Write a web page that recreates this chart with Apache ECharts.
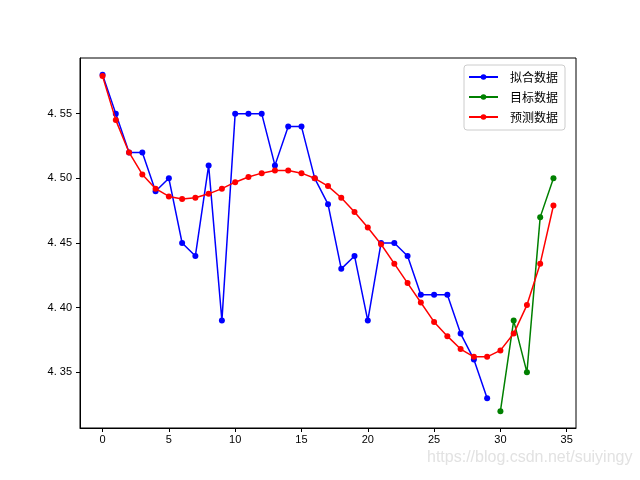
<!DOCTYPE html>
<html><head><meta charset="utf-8">
<script src="https://cdn.jsdelivr.net/npm/echarts@6/dist/echarts.min.js"></script>
<style>html,body{margin:0;padding:0;background:#fff}#c{width:640px;height:480px}</style>
</head><body><div id="c"></div>
<script>
var fitX = [0,1,2,3,4,5,6,7,8,9,10,11,12,13,14,15,16,17,18,19,20,21,22,23,24,25,26,27,28,29];
var fitY = [4.58,4.55,4.52,4.52,4.49,4.50,4.45,4.44,4.51,4.39,4.55,4.55,4.55,4.51,4.54,4.54,4.50,4.48,4.43,4.44,4.39,4.45,4.45,4.44,4.41,4.41,4.41,4.38,4.36,4.33];
var targetX = [30,31,32,33,34];
var targetY = [4.32,4.39,4.35,4.47,4.50];
var predX = [0,1,2,3,4,5,6,7,8,9,10,11,12,13,14,15,16,17,18,19,20,21,22,23,24,25,26,27,28,29,30,31,32,33,34];
var predY = [4.579,4.545,4.520,4.503,4.492,4.486,4.484,4.485,4.488,4.492,4.497,4.501,4.504,4.506,4.506,4.504,4.500,4.494,4.485,4.474,4.462,4.449,4.434,4.419,4.404,4.389,4.378,4.368,4.362,4.362,4.367,4.380,4.402,4.434,4.479];
var xTicks = [0,5,10,15,20,25,30,35];
var yTicks = [4.35,4.40,4.45,4.50,4.55];
var seriesNames = ['拟合数据','目标数据','预测数据'];
var colors = ['#0000ff','#008000','#ff0000'];

function pairs(xs, ys){ return xs.map(function(x,i){return [x, ys[i]];}); }

var chart = echarts.init(document.getElementById('c'));
var mk = function(name, data, color, z){
  return {name:name, type:'line', data:data, z:z, symbol:'circle', symbolSize:6,
    showAllSymbol:true, animation:false,
    itemStyle:{color:color}, lineStyle:{color:color, width:1.5}};
};
chart.setOption({
  animation:false,
  grid:{left:80, right:64, top:58, bottom:52, show:true, borderColor:'#000', borderWidth:1, backgroundColor:'transparent'},
  legend:{
    data:seriesNames, orient:'vertical', left:464, top:65,
    itemWidth:29, itemHeight:7, itemGap:8,
    padding:[6,7,7,4], borderColor:'#ccc', borderWidth:1, borderRadius:3,
    textStyle:{fontFamily:'Noto Sans CJK SC', fontSize:12, color:'#000', padding:[0,0,0,7]}
  },
  xAxis:{type:'value', min:-1.7, max:35.7,
    axisLine:{show:true, onZero:false, lineStyle:{color:'#000'}}, splitLine:{show:false},
    axisTick:{show:true, customValues:xTicks, length:4, lineStyle:{color:'#000'}},
    axisLabel:{customValues:xTicks, color:'#000', fontSize:11, fontFamily:'Liberation Sans', margin:6}
  },
  yAxis:{type:'value', min:4.307, max:4.593,
    axisLine:{show:true, onZero:false, lineStyle:{color:'#000'}}, splitLine:{show:false},
    axisTick:{show:true, customValues:yTicks, length:4, lineStyle:{color:'#000'}},
    axisLabel:{customValues:yTicks, color:'#000', fontSize:11, fontFamily:'Liberation Sans', margin:8,
      formatter:function(v){return v.toFixed(2).replace('.', '. ');}}
  },
  graphic:[{type:'text', left:427, top:450, style:{text:'https://blog.csdn.net/suiyingy', fill:'#e2e2e2', font:'16px Liberation Sans'}}],
  series:[
    mk(seriesNames[0], pairs(fitX, fitY), colors[0], 2),
    mk(seriesNames[1], pairs(targetX, targetY), colors[1], 3),
    mk(seriesNames[2], pairs(predX, predY), colors[2], 4)
  ]
});
</script></body></html>
